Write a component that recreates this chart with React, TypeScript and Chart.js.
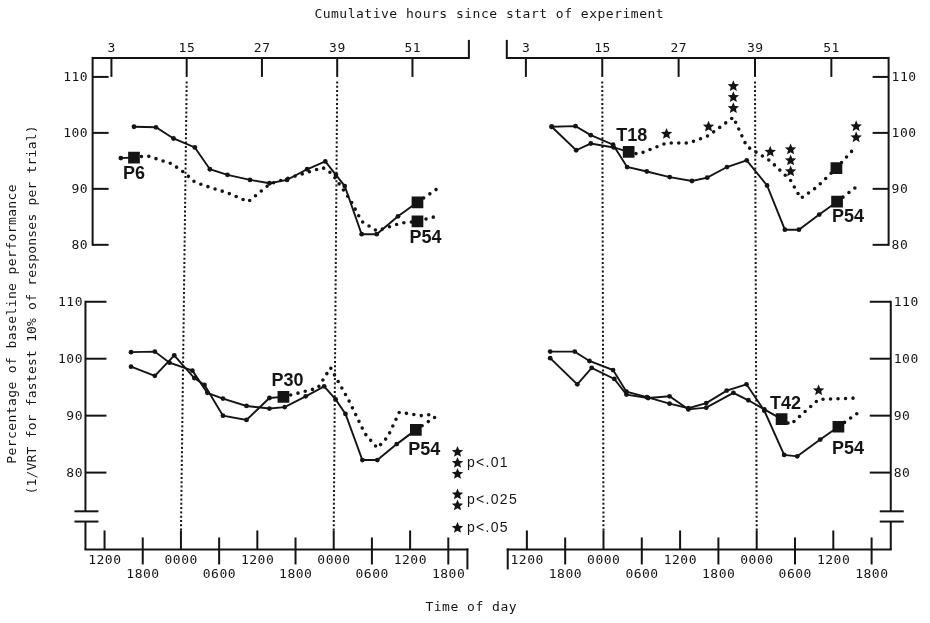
import React, { useEffect, useRef } from 'react';
import { Chart, registerables } from 'chart.js';

Chart.register(...registerables);

const W = 930;
const H = 623;

// ---------- tick labels ----------
const cumulativeHourTicks = [3, 15, 27, 39, 51];
const clockTickHours = [3, 9, 15, 21, 27, 33, 39, 45, 51, 57];
const clockTickLabels = ['1200', '1800', '0000', '0600', '1200', '1800', '0000', '0600', '1200', '1800'];
const percentTicks = [110, 100, 90, 80];
const midnightHours = [15, 39];

// ---------- top-left panel (P6 group) ----------
const tlLine1Hours = [6.6, 10.1, 12.9, 16.3, 18.7, 21.5, 25.1, 28.2, 31.0, 34.2, 37.1, 38.8, 40.2, 42.9, 45.3, 48.7, 51.8, 55.2];
const tlLine1Values = [101.1, 101.0, 99.0, 97.4, 93.5, 92.5, 91.6, 91.0, 91.6, 93.5, 94.9, 92.5, 90.5, 81.9, 81.9, 85.1, 87.6, 90.2];
const tlLine2Hours = [4.5, 6.6, 8.7, 12.6, 14.5, 16.3, 18.9, 21.5, 24.8, 28.3, 30.9, 36.7, 38.2, 41.1, 42.9, 45.3, 49.2, 51.8, 55.2];
const tlLine2Values = [95.5, 95.6, 95.9, 94.5, 93.0, 91.2, 90.2, 89.3, 87.7, 90.9, 91.8, 93.8, 92.7, 88.0, 84.2, 82.5, 83.9, 84.2, 85.2];

// ---------- top-right panel (T18 group) ----------
const trLine1Hours = [7.05, 10.8, 13.2, 16.7, 18.9, 22.0, 25.6, 29.1, 31.5, 34.6, 37.7, 40.9, 43.7, 45.9, 49.1, 51.9, 55.2];
const trLine1Values = [101.1, 101.2, 99.6, 97.9, 93.9, 93.1, 92.1, 91.4, 92.0, 93.9, 95.1, 90.6, 82.7, 82.7, 85.4, 87.7, 90.6];
const trLine2Hours = [7.05, 10.9, 13.2, 16.8, 19.15, 20.7, 25.1, 28.65, 31.7, 35.6, 37.7, 41.4, 44.6, 46.2, 48.7, 51.8, 54.9];
const trLine2Values = [101.1, 96.9, 98.1, 97.4, 96.6, 96.2, 98.2, 98.2, 99.5, 102.8, 97.6, 95.0, 91.5, 88.3, 90.3, 93.7, 97.6];
const trLine2StarIndex = [6, 8, 9, 11, 12, 16];
const trLine2StarCount = [1, 1, 3, 1, 3, 2];

// ---------- bottom-left panel (P30 group) ----------
const blLine1Hours = [7.16, 10.9, 13.2, 16.8, 19.15, 21.6, 25.3, 28.9, 31.3, 34.6, 37.5, 39.3, 40.85, 43.5, 45.85, 48.9, 51.9, 55.0];
const blLine1Values = [101.15, 101.25, 99.3, 97.9, 94.0, 93.0, 91.7, 91.25, 91.5, 93.4, 95.15, 92.85, 90.3, 82.2, 82.2, 85.0, 87.5, 89.8];
const blLine2Hours = [7.16, 10.9, 13.95, 17.1, 18.7, 21.6, 25.3, 28.9, 31.1, 36.5, 38.5, 41.4, 43.9, 45.85, 47.5, 49.3, 52.7, 55.0];
const blLine2Values = [98.6, 97.0, 100.6, 96.6, 95.4, 90.0, 89.25, 93.1, 93.3, 94.85, 98.4, 92.6, 86.85, 84.3, 86.3, 90.6, 90.0, 90.3];

// ---------- bottom-right panel (T42 group) ----------
const brLine1Hours = [6.65, 10.5, 12.8, 16.5, 18.6, 21.8, 25.35, 28.3, 31.1, 34.3, 37.4, 40.2, 43.3, 45.35, 48.95, 51.8, 55.0];
const brLine1Values = [101.25, 101.25, 99.6, 98.0, 94.2, 93.25, 92.1, 91.3, 92.2, 94.4, 95.5, 90.85, 83.1, 82.85, 85.8, 88.05, 90.6];
const brLine2Hours = [6.65, 10.9, 13.15, 16.7, 18.6, 22.0, 25.35, 28.3, 31.1, 35.35, 37.7, 40.2, 42.9, 44.3, 48.7, 54.8];
const brLine2Values = [100.1, 95.5, 98.4, 96.45, 93.7, 93.1, 93.4, 91.1, 91.4, 94.0, 92.7, 91.1, 89.4, 88.45, 92.85, 93.1];
const brLine2StarIndex = [14];
const brLine2StarCount = [1];

// legend
const legendTexts = ['p<.01', 'p<.025', 'p<.05'];
const legendStars = [3, 2, 1];

const INK = '#141414';
const MONO = '"DejaVu Sans Mono", monospace';
const TICK_FONT = '13px ' + MONO;
const TICK_SP = 0.5;

type Series = {
  x: string;
  y: string;
  hours: number[];
  values: number[];
  switchAt: number;
  squares: number[];
  starIndex?: number[];
  starCount?: number[];
};

const seriesList: Series[] = [
  { x: 'xTL', y: 'yTop', hours: tlLine1Hours, values: tlLine1Values, switchAt: 16, squares: [16] },
  { x: 'xTL', y: 'yTop', hours: tlLine2Hours, values: tlLine2Values, switchAt: 1, squares: [1, 17] },
  { x: 'xTR', y: 'yTop', hours: trLine1Hours, values: trLine1Values, switchAt: 15, squares: [15] },
  { x: 'xTR', y: 'yTop', hours: trLine2Hours, values: trLine2Values, switchAt: 4, squares: [4, 15], starIndex: trLine2StarIndex, starCount: trLine2StarCount },
  { x: 'xBL', y: 'yBot', hours: blLine1Hours, values: blLine1Values, switchAt: 16, squares: [16] },
  { x: 'xBL', y: 'yBot', hours: blLine2Hours, values: blLine2Values, switchAt: 8, squares: [8] },
  { x: 'xBR', y: 'yBot', hours: brLine1Hours, values: brLine1Values, switchAt: 15, squares: [15] },
  { x: 'xBR', y: 'yBot', hours: brLine2Hours, values: brLine2Values, switchAt: 12, squares: [12], starIndex: brLine2StarIndex, starCount: brLine2StarCount },
];

// marker annotations: series index, point index, text, label offset (px)
const markerLabels = [
  { s: 1, i: 1, text: 'P6', dx: 0, dy: 17 },
  { s: 1, i: 17, text: 'P54', dx: 8, dy: 17 },
  { s: 3, i: 4, text: 'T18', dx: 3, dy: -16 },
  { s: 2, i: 15, text: 'P54', dx: 11, dy: 15 },
  { s: 5, i: 8, text: 'P30', dx: 4, dy: -16 },
  { s: 4, i: 16, text: 'P54', dx: 8.5, dy: 20 },
  { s: 7, i: 12, text: 'T42', dx: 4, dy: -15 },
  { s: 6, i: 15, text: 'P54', dx: 9.5, dy: 22 },
];

// axis levels (data units)
const TOP_AXIS = 113.4;
const BOTTOM_AXIS = 66.5;
const BREAK_HI = 73.2;
const BREAK_LO = 71.4;

function xRange(h1: number, p1: number, h2: number, p2: number) {
  const s = (p2 - p1) / (h2 - h1);
  const a = p1 - h1 * s;
  return { min: -a / s, max: (W - a) / s };
}
function yRange(v1: number, p1: number, v2: number, p2: number) {
  const s = (p2 - p1) / (v1 - v2);
  const max = v1 + p1 / s;
  return { min: max - H / s, max };
}

function drawStar(ctx: CanvasRenderingContext2D, cx: number, cy: number, R: number) {
  const r = R * 0.45;
  ctx.beginPath();
  for (let k = 0; k < 10; k++) {
    const ang = -Math.PI / 2 + (k * Math.PI) / 5;
    const rad = k % 2 === 0 ? R : r;
    ctx.lineTo(cx + rad * Math.cos(ang), cy + rad * Math.sin(ang));
  }
  ctx.closePath();
  ctx.fill();
}

function txt(ctx: CanvasRenderingContext2D, s: string, x: number, y: number, font: string, align: CanvasTextAlign, spacing = 0) {
  ctx.font = font;
  ctx.textAlign = align;
  ctx.textBaseline = 'middle';
  (ctx as any).letterSpacing = spacing + 'px';
  const shift = align === 'center' ? spacing / 2 : align === 'right' ? spacing : 0;
  ctx.fillText(s, x + shift, y);
  (ctx as any).letterSpacing = '0px';
}

const figurePlugin = {
  id: 'figure',
  beforeDraw(chart: any) {
    const ctx = chart.ctx as CanvasRenderingContext2D;
    ctx.save();
    ctx.fillStyle = '#ffffff';
    ctx.fillRect(0, 0, chart.width, chart.height);
    ctx.restore();
  },
  beforeDatasetsDraw(chart: any) {
    const ctx = chart.ctx as CanvasRenderingContext2D;
    const sc = chart.scales;
    ctx.save();
    ctx.strokeStyle = INK;
    ctx.fillStyle = INK;
    ctx.lineWidth = 2;
    ctx.lineCap = 'butt';
    const line = (x1: number, y1: number, x2: number, y2: number) => {
      ctx.beginPath();
      ctx.moveTo(x1, y1);
      ctx.lineTo(x2, y2);
      ctx.stroke();
    };

    // top panels
    for (const side of ['L', 'R']) {
      const X = sc['xT' + side];
      const Y = sc.yTop;
      const x0 = X.getPixelForValue(0);
      const x60 = X.getPixelForValue(60);
      const ya = Y.getPixelForValue(TOP_AXIS);
      line(x0, ya, x60, ya);
      const endX = side === 'L' ? x60 : x0;
      line(endX, ya + 1, endX, ya - 18);
      const vx = side === 'L' ? x0 : x60;
      line(vx, ya - 1, vx, Y.getPixelForValue(80) + 1);
      for (const h of cumulativeHourTicks) {
        const px = X.getPixelForValue(h);
        line(px, ya, px, Y.getPixelForValue(110));
        txt(ctx, String(h), px, ya - 9, TICK_FONT, 'center', TICK_SP);
      }
      const dir = side === 'L' ? 1 : -1;
      for (const v of percentTicks) {
        const py = Y.getPixelForValue(v);
        line(vx, py, vx + dir * 16, py);
        if (side === 'L') txt(ctx, String(v), vx - 5, py + 1, TICK_FONT, 'right', TICK_SP);
        else txt(ctx, String(v), vx + 3, py + 1, TICK_FONT, 'left', TICK_SP);
      }
    }

    // bottom panels
    for (const side of ['L', 'R']) {
      const X = sc['xB' + side];
      const Y = sc.yBot;
      const x0 = X.getPixelForValue(0);
      const x60 = X.getPixelForValue(60);
      const ya = Y.getPixelForValue(BOTTOM_AXIS);
      line(x0 - 1, ya, x60 + 1, ya);
      const endX = side === 'L' ? x60 : x0;
      line(endX, ya - 1, endX, ya + 20);
      const vx = side === 'L' ? x0 : x60;
      const yb1 = Y.getPixelForValue(BREAK_HI);
      const yb2 = Y.getPixelForValue(BREAK_LO);
      line(vx, Y.getPixelForValue(110) - 1, vx, yb1);
      line(vx, yb2, vx, ya);
      line(vx - 11, yb1, vx + 13, yb1);
      line(vx - 11, yb2, vx + 13, yb2);
      clockTickHours.forEach((h, k) => {
        const px = X.getPixelForValue(h);
        if (k % 2 === 0) {
          line(px, ya - 19, px, ya);
          txt(ctx, clockTickLabels[k], px, ya + 11, TICK_FONT, 'center', TICK_SP);
        } else {
          line(px, ya - 12, px, ya + 15);
          txt(ctx, clockTickLabels[k], px, ya + 25, TICK_FONT, 'center', TICK_SP);
        }
      });
      const dir = side === 'L' ? 1 : -1;
      for (const v of percentTicks) {
        const py = Y.getPixelForValue(v);
        line(vx, py, vx + dir * 21, py);
        if (side === 'L') txt(ctx, String(v), vx - 3, py + 1, TICK_FONT, 'right', TICK_SP);
        else txt(ctx, String(v), vx + 3, py + 1, TICK_FONT, 'left', TICK_SP);
      }
    }

    // dotted midnight lines spanning both panels
    ctx.setLineDash([2, 2.3]);
    ctx.lineWidth = 2;
    for (const side of ['L', 'R']) {
      for (const h of midnightHours) {
        const xt = sc['xT' + side].getPixelForValue(h);
        const xb = sc['xB' + side].getPixelForValue(h);
        line(xt, sc.yTop.getPixelForValue(109.2), xb, sc.yBot.getPixelForValue(69.6));
      }
    }
    ctx.setLineDash([]);
    ctx.restore();
  },
  afterDatasetsDraw(chart: any) {
    const ctx = chart.ctx as CanvasRenderingContext2D;
    const sc = chart.scales;
    ctx.save();
    ctx.fillStyle = INK;

    // significance stars
    for (const s of seriesList) {
      if (!s.starIndex || !s.starCount) continue;
      s.starIndex.forEach((idx, k) => {
        const px = sc[s.x].getPixelForValue(s.hours[idx]);
        const py = sc[s.y].getPixelForValue(s.values[idx]);
        for (let n = 0; n < s.starCount![k]; n++) drawStar(ctx, px, py - 9 - n * 11, 6);
      });
    }

    // marker labels
    for (const m of markerLabels) {
      const s = seriesList[m.s];
      const px = sc[s.x].getPixelForValue(s.hours[m.i]);
      const py = sc[s.y].getPixelForValue(s.values[m.i]);
      txt(ctx, m.text, px + m.dx, py + m.dy, 'bold 18px "Liberation Sans", Arial, sans-serif', 'center', 0);
    }

    // legend
    const legendY = [463, 500, 528];
    legendTexts.forEach((t, k) => {
      const n = legendStars[k];
      const y = legendY[k];
      for (let j = 0; j < n; j++) {
        const sy = y + (j - (n - 1) / 2) * 11;
        drawStar(ctx, 457.5, sy, 6);
      }
      txt(ctx, t, 467, y, '14px "Liberation Sans", Arial, sans-serif', 'left', 1.3);
    });

    // titles
    txt(ctx, 'Cumulative hours since start of experiment', 489, 15, TICK_FONT, 'center', TICK_SP);
    txt(ctx, 'Time of day', 471, 608, TICK_FONT, 'center', TICK_SP);
    ctx.save();
    ctx.translate(13, 324);
    ctx.rotate(-Math.PI / 2);
    txt(ctx, 'Percentage of baseline performance', 0, 0, TICK_FONT, 'center', 0.4);
    ctx.restore();
    ctx.save();
    ctx.translate(33, 310);
    ctx.rotate(-Math.PI / 2);
    txt(ctx, '(1/VRT for fastest 10% of responses per trial)', 0, 0, TICK_FONT, 'center', 0.2);
    ctx.restore();

    ctx.restore();
  },
};

function buildConfig(): any {
  const datasets: any[] = [];
  for (const s of seriesList) {
    const pts = s.hours.map((h, i) => ({ x: h, y: s.values[i] }));
    datasets.push({
      data: pts.slice(0, s.switchAt + 1),
      xAxisID: s.x,
      yAxisID: s.y,
      borderColor: INK,
      borderWidth: 1.9,
      pointRadius: 2.4,
      pointBackgroundColor: INK,
      pointBorderWidth: 0,
      tension: 0,
      fill: false,
    });
    datasets.push({
      data: pts.slice(s.switchAt),
      xAxisID: s.x,
      yAxisID: s.y,
      borderColor: INK,
      borderWidth: 3.6,
      borderDash: [0, 7.5],
      borderCapStyle: 'round',
      pointRadius: 0,
      tension: 0,
      fill: false,
    });
    datasets.push({
      data: s.squares.map((i) => pts[i]),
      xAxisID: s.x,
      yAxisID: s.y,
      showLine: false,
      pointStyle: 'rect',
      pointRadius: 8.3,
      pointBackgroundColor: INK,
      pointBorderColor: INK,
      pointBorderWidth: 0,
    });
  }
  const lin = (r: { min: number; max: number }) => ({ type: 'linear', display: false, bounds: 'data', min: r.min, max: r.max });
  return {
    type: 'line',
    data: { datasets },
    options: {
      animation: false,
      responsive: false,
      devicePixelRatio: 1,
      events: [],
      layout: { padding: 0 },
      plugins: { legend: { display: false }, tooltip: { enabled: false }, title: { display: false } },
      scales: {
        xTL: lin(xRange(3, 105, 51, 411.5)),
        xBL: lin(xRange(3, 98, 57, 448)),
        xTR: lin(xRange(3, 527, 51, 838)),
        xBR: lin(xRange(3, 528, 57, 879)),
        yTop: lin(yRange(100, 128, 80, 243)),
        yBot: lin(yRange(100, 360, 80, 477)),
      },
    },
    plugins: [figurePlugin],
  };
}

export default function App() {
  const ref = useRef<HTMLCanvasElement>(null);
  useEffect(() => {
    const canvas = ref.current;
    if (!canvas) return;
    const chart = new Chart(canvas, buildConfig());
    return () => chart.destroy();
  }, []);
  return (
    <div style={{ position: 'absolute', left: 0, top: 0, width: W, height: H, background: '#ffffff' }}>
      <canvas ref={ref} width={W} height={H} style={{ width: W, height: H, display: 'block' }} />
    </div>
  );
}
